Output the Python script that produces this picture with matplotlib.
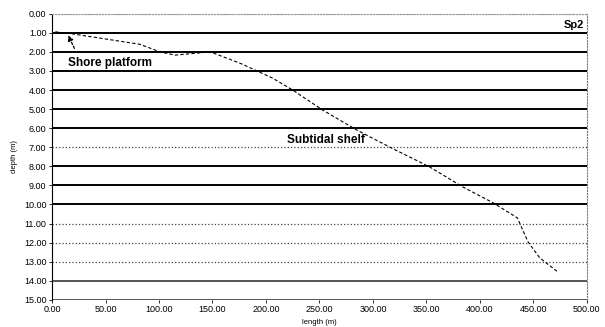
import matplotlib.pyplot as plt
import numpy as np

plt.rcParams['font.family'] = ['Liberation Sans', 'DejaVu Sans']

# profile Sp2
length = [3, 15, 82, 101, 115, 148, 176, 206, 225, 253, 285, 316, 353, 384, 412, 435, 445, 456, 472]
depth = [0.95, 1.02, 1.6, 2.0, 2.17, 2.0, 2.6, 3.37, 4.0, 5.05, 6.1, 7.0, 8.03, 9.08, 9.9, 10.7, 11.96, 12.8, 13.5]

x_ticks = np.arange(0, 501, 50)
y_ticks = np.arange(0, 16, 1)
# scan left some grid lines solid and others faded to dots
grid_style = ['dotted', 'solid', 'solid', 'solid', 'solid', 'solid', 'solid', 'dotted',
              'solid', 'solid', 'solid', 'dotted', 'dotted', 'dotted', 'solid', 'solid']
grid_color = ['#999999', 'black', 'black', 'black', 'black', 'black', 'black', '#444444',
              'black', 'black', 'black', '#444444', '#444444', '#444444', '#555555', '#555555']

fig = plt.figure(figsize=(6.05, 3.27), dpi=100)
ax = fig.add_axes([0.086, 0.083, 0.884, 0.875])

for yv, ls, c in zip(y_ticks, grid_style, grid_color):
    lw = 1.4 if ls == 'solid' else 0.9
    ax.axhline(yv, color=c, linestyle=ls, linewidth=lw, zorder=1)

ax.plot(length, depth, color='black', linestyle=(0, (3, 2)), linewidth=0.8, zorder=3)

ax.set_xlim(0, 500)
ax.set_ylim(15, 0)
ax.set_xticks(x_ticks)
ax.set_yticks(y_ticks)
ax.set_xticklabels(['%.2f' % v for v in x_ticks])
ax.set_yticklabels(['%.2f' % v for v in y_ticks])
ax.tick_params(labelsize=6.5, length=2, width=0.6, pad=2)

ax.spines['top'].set_linestyle(':')
ax.spines['top'].set_color('#999999')
ax.spines['right'].set_linestyle(':')
ax.spines['right'].set_color('#777777')
ax.spines['bottom'].set_visible(False)
ax.spines['left'].set_linewidth(0.8)

ax.set_xlabel('length (m)', fontsize=5.5, labelpad=3)
ax.set_ylabel('depth (m)', fontsize=5.5, labelpad=4)

ax.text(15, 2.6, 'Shore platform', fontsize=8.5, fontweight='bold', va='center', ha='left')
ax.text(220, 6.6, 'Subtidal shelf', fontsize=8.5, fontweight='bold', va='center', ha='left')
ax.text(497, 0.6, 'Sp2', fontsize=8, fontweight='bold', va='center', ha='right')
ax.annotate('', xy=(14, 1.0), xytext=(22, 1.95),
            arrowprops=dict(arrowstyle='-|>', color='black', lw=0.9,
                            linestyle=(0, (2, 1.5)), mutation_scale=8))

fig.savefig('out.png', dpi=100)
